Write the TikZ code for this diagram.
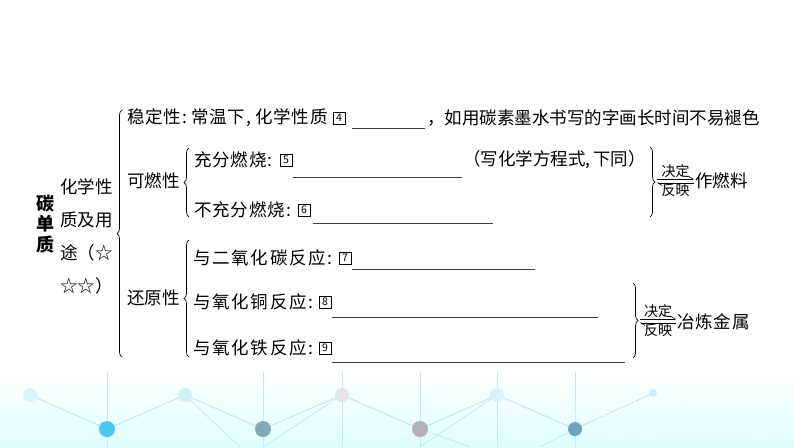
\documentclass[tikz,border=0pt]{standalone}
\usepackage{fontspec}
\setmainfont{Noto Sans CJK SC}
\usetikzlibrary{decorations.pathreplacing,arrows.meta}

\begin{document}
\begin{tikzpicture}[x=1pt,y=-1pt]
    \tikzset{
        txt/.style={anchor=west,inner sep=0pt,font=\fontsize{17.5}{20}\selectfont},
        loose/.style={txt,font=\fontsize{17.5}{20}\selectfont\addfontfeature{LetterSpace=5}},
        looser/.style={txt,font=\fontsize{17.5}{20}\selectfont\addfontfeature{LetterSpace=10}},
        numbox/.style={draw,line width=0.5pt,inner sep=0pt,minimum size=12pt,font=\fontsize{10.5}{10.5}\selectfont},
        blank/.style={draw=black!75,line width=0.7pt},
        bracel/.style={decorate,decoration={brace,amplitude=5pt},line width=0.7pt},
        link/.style={line width=0.6pt,-{Straight Barb[harpoon,length=4pt,width=5pt]}},
        tag/.style={inner sep=1pt,font=\fontsize{14}{14}\selectfont},
        dot/.style={circle,inner sep=0pt}
    }
    \useasboundingbox (0,0) rectangle (794,447);

    % background strip
    \shade[top color=white,bottom color=cyan!13] (0,372) rectangle (794,447);
    \draw[cyan!30,line width=0.8pt] (30,395) -- (107,429) -- (185,395) -- (263,429) -- (342,395)
        -- (420,429) -- (497,395) -- (575,429) -- (653,393);
    \draw[cyan!25,line width=0.8pt] (342,395) -- (263,447) (420,429) -- (470,447) (497,395) -- (420,447)
        (185,395) -- (240,447) (575,429) -- (540,447);
    \foreach \x in {107,263,342,420,497,575}
        \draw[cyan!25,line width=0.8pt] (\x,372) -- (\x,447);
    \foreach \x in {560,590,620,650,680,710,740,770}
        \draw[white!70!cyan!20,line width=0.8pt] (\x,415) rectangle +(18,-14) (\x,432) rectangle +(18,-14);
    \foreach \x/\y/\r/\c in {30/395/7/cyan!15, 185/395/7/cyan!18, 342/395/7/gray!20,
                            497/395/7/cyan!15, 653/393/4/cyan!20,
                            107/429/8/cyan!70, 263/429/8/cyan!50!black!60,
                            420/429/8/gray!60, 575/429/7/cyan!45!gray}
        \fill[\c] (\x,\y) circle (\r);

    % left titles
    \node[inner sep=0pt,align=center,font=\fontsize{18}{20.5}\selectfont\bfseries] (root) at (45,224) {碳\\单\\质};
    \node[txt,align=left,font=\fontsize{17.5}{33}\selectfont] (chem) at (60,236) {化学性\\质及用\\途（☆\\☆☆）};

    % stability
    \node[loose] (stab) at (127,118) {稳定性:\hspace{4pt}常温下,\hspace{4pt}化学性质};
    \node[numbox] (n4) at (339,118) {4};
    \coordinate (u4a) at (352,128); \coordinate (u4b) at (425,128);
    \node[txt] (stab2) at (427,118) {，如用碳素墨水书写的字画长时间不易褪色};

    % combustion
    \node[txt] (comb) at (127,181) {可燃性};
    \node[loose] (full) at (194,160) {充分燃烧:};
    \node[numbox] (n5) at (286,160) {5};
    \coordinate (u5a) at (293,177); \coordinate (u5b) at (462,177);
    \node[txt] (note) at (463,160) {（写化学方程式,\,下同）};
    \node[loose] (part) at (194,210) {不充分燃烧:};
    \node[numbox] (n6) at (304,210) {6};
    \coordinate (u6a) at (313,223); \coordinate (u6b) at (493,223);
    \node[txt] (fuel) at (695,181) {作燃料};

    % reduction
    \node[txt] (redu) at (127,298) {还原性};
    \node[looser] (co2) at (193,258) {与二氧化碳反应:};
    \node[numbox] (n7) at (345,258) {7};
    \coordinate (u7a) at (352,269); \coordinate (u7b) at (535,269);
    \node[looser] (cuo) at (193,302) {与氧化铜反应:};
    \node[numbox] (n8) at (325,302) {8};
    \coordinate (u8a) at (332,317); \coordinate (u8b) at (598,317);
    \node[looser] (feo) at (193,348) {与氧化铁反应:};
    \node[numbox] (n9) at (325,348) {9};
    \coordinate (u9a) at (332,362); \coordinate (u9b) at (625,362);
    \node[loose] (metal) at (677,322) {冶炼金属};

    % blanks
    \foreach \k in {4,...,9}
        \draw[blank] (u\k a) -- (u\k b);

    % braces
    \draw[bracel] (122,357) -- (122,110);
    \draw[bracel] (189,217) -- (189,148);
    \draw[bracel] (189,357) -- (189,240);
    \draw[bracel] (650,147) -- (650,217);
    \draw[bracel] (633,283) -- (633,358);

    % decide / reflect
    \coordinate (b1u) at (657,179); \coordinate (b1d) at (657,183);
    \coordinate (f1u) at (694,179); \coordinate (f1d) at (694,183);
    \draw[link] (b1u) -- node[above,tag] {决定} (f1u);
    \draw[link] (f1d) -- node[below,tag] {反映} (b1d);
    \coordinate (b2u) at (640,319); \coordinate (b2d) at (640,323);
    \coordinate (f2u) at (676,319); \coordinate (f2d) at (676,323);
    \draw[link] (b2u) -- node[above,tag] {决定} (f2u);
    \draw[link] (f2d) -- node[below,tag] {反映} (b2d);
\end{tikzpicture}
\end{document}
